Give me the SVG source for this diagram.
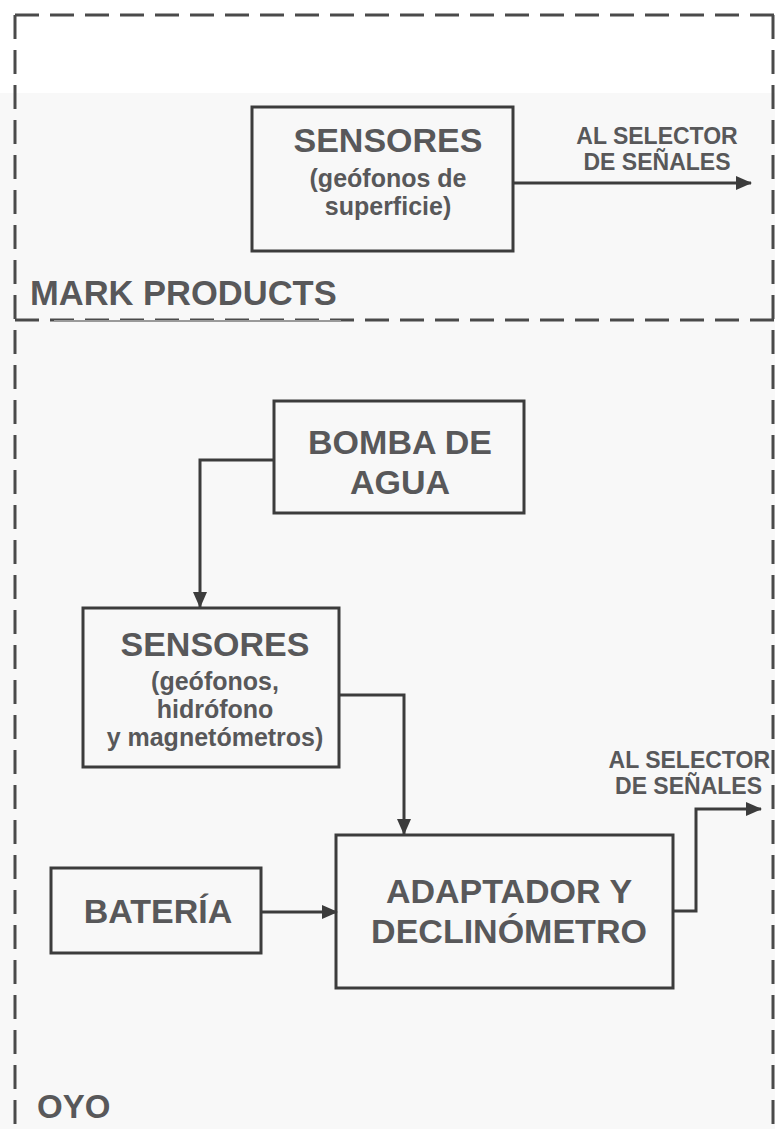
<svg xmlns="http://www.w3.org/2000/svg" width="775" height="1129" viewBox="0 0 775 1129">
<defs>
<style>
.box{fill:none;stroke:#3c3c3c;stroke-width:3}
.t{font-family:"Liberation Sans",Arial,sans-serif;font-weight:bold;fill:#58585a;text-anchor:middle}
.big{font-size:34px}
.sm{font-size:25px}
.lab{font-size:23px}
.con{fill:none;stroke:#3c3c3c;stroke-width:3}
.dash{fill:none;stroke:#4a4a4a;stroke-width:3;stroke-dasharray:24 11}
</style>
<marker id="ah" markerUnits="userSpaceOnUse" markerWidth="16" markerHeight="14" refX="15" refY="7" orient="auto">
<path d="M0,0 L16,7 L0,14 Z" fill="#3c3c3c"/>
</marker>
</defs>
<rect x="0" y="0" width="775" height="1129" fill="#ffffff"/>
<rect x="0" y="93" width="775" height="1036" fill="#f8f8f8"/>

<g id="frames">
<path class="dash" d="M15,15 H775"/>
<path class="dash" d="M15,15 V1129"/>
<path class="dash" d="M773,15 V1129"/>
<path class="dash" d="M15,320 H775"/>
<path d="M54,321 H341" stroke="#9a9a9a" stroke-width="2" fill="none"/>
<text class="t" x="30" y="305" style="font-size:34.5px;text-anchor:start">MARK PRODUCTS</text>
<text class="t" x="37" y="1118" style="font-size:33px;text-anchor:start">OYO</text>
</g>

<g id="connectors">
<path class="con" d="M513,183 H751" marker-end="url(#ah)"/>
<path class="con" d="M274,460 H200 V607" marker-end="url(#ah)"/>
<path class="con" d="M339,695 H404 V834" marker-end="url(#ah)"/>
<path class="con" d="M261,912 H337" marker-end="url(#ah)"/>
<path class="con" d="M673,911 H696 V809 H761" marker-end="url(#ah)"/>
</g>

<g id="n_sensores_sup">
<rect class="box" x="252" y="107" width="261" height="144"/>
<text class="t big" x="388" y="152">SENSORES</text>
<text class="t sm" x="388" y="187">(geófonos de<tspan x="388" dy="28">superficie)</tspan></text>
</g>

<g id="lbl_selector1">
<text class="t lab" x="657" y="144">AL SELECTOR<tspan x="657" dy="26">DE SEÑALES</tspan></text>
</g>

<g id="n_bomba">
<rect class="box" x="274" y="401" width="250" height="112"/>
<text class="t big" x="400" y="454">BOMBA DE<tspan x="400" dy="40">AGUA</tspan></text>
</g>

<g id="n_sensores_oyo">
<rect class="box" x="83" y="608" width="256" height="159"/>
<text class="t big" x="215" y="656">SENSORES</text>
<text class="t sm" x="215" y="690">(geófonos,<tspan x="215" dy="28">hidrófono</tspan><tspan x="215" dy="28">y magnetómetros)</tspan></text>
</g>

<g id="n_bateria">
<rect class="box" x="51" y="868" width="210" height="85"/>
<text class="t big" x="158" y="923">BATERÍA</text>
</g>

<g id="n_adaptador">
<rect class="box" x="336" y="835" width="337" height="153"/>
<text class="t big" x="509" y="903">ADAPTADOR Y<tspan x="509" dy="40">DECLINÓMETRO</tspan></text>
</g>

<g id="lbl_selector2">
<text class="t lab" x="770" y="768" style="text-anchor:end">AL SELECTOR<tspan x="762" dy="26">DE SEÑALES</tspan></text>
</g>
</svg>
